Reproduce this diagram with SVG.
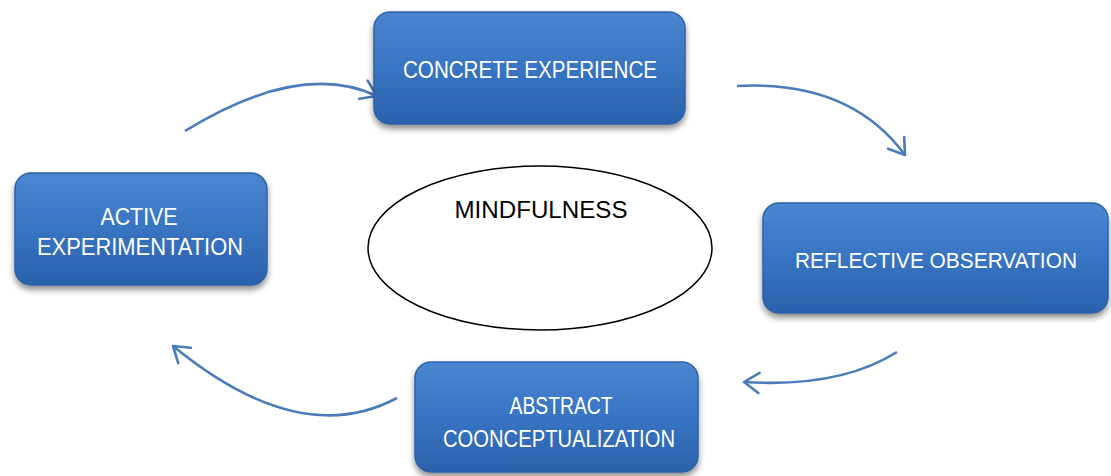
<svg xmlns="http://www.w3.org/2000/svg" width="1111" height="476" viewBox="0 0 1111 476">
<style>
.box{fill:url(#g);stroke:#2d62a8;stroke-width:1.5;filter:url(#sh)}
.lbl{font-family:"Liberation Sans",Arial,sans-serif;font-size:24px;fill:#ffffff;text-anchor:middle}
.conn{fill:none;stroke:#4a7bbb;stroke-width:2.6;marker-end:url(#ah)}
</style>
<defs>
<linearGradient id="g" x1="0" y1="0" x2="0" y2="1">
<stop offset="0" stop-color="#4a86d0"/>
<stop offset="0.5" stop-color="#3874c2"/>
<stop offset="1" stop-color="#2b62ab"/>
</linearGradient>
<filter id="sh" x="-10%" y="-10%" width="120%" height="130%">
<feDropShadow dx="0" dy="4" stdDeviation="3" flood-color="#000" flood-opacity="0.45"/>
</filter>
<marker id="ah" markerUnits="userSpaceOnUse" viewBox="-20 -14 24 28" refX="0" refY="0" markerWidth="24" markerHeight="28" orient="auto">
<path d="M-15,-10 L0,0 L-15,10" fill="none" stroke="#4a7bbb" stroke-width="2.6" stroke-linecap="round" stroke-linejoin="round"/>
</marker>
</defs>
<g id="connectors">
<path class="conn" d="M185,131 Q300,60 377,96"/>
<path class="conn" d="M737,86 Q850,80 905,155"/>
<path class="conn" d="M897,352 Q840,388 744,382"/>
<path class="conn" d="M397,398 Q300,450 173,346"/>
</g>
<g id="concrete">
<rect class="box" x="374" y="12" width="311" height="112" rx="16"/>
<text class="lbl" x="530" y="78" textLength="254" lengthAdjust="spacingAndGlyphs">CONCRETE EXPERIENCE</text>
</g>
<g id="reflective">
<rect class="box" x="763" y="203" width="345" height="110" rx="16"/>
<text class="lbl" x="936" y="268" font-size="22" textLength="282" lengthAdjust="spacingAndGlyphs" style="font-size:22px">REFLECTIVE OBSERVATION</text>
</g>
<g id="abstract">
<rect class="box" x="415" y="362" width="283" height="110" rx="16"/>
<text class="lbl" x="561" y="414" textLength="103" lengthAdjust="spacingAndGlyphs">ABSTRACT</text>
<text class="lbl" x="559" y="447" textLength="232" lengthAdjust="spacingAndGlyphs">COONCEPTUALIZATION</text>
</g>
<g id="active">
<rect class="box" x="15" y="173" width="252" height="112" rx="16"/>
<text class="lbl" x="139" y="225" textLength="77" lengthAdjust="spacingAndGlyphs">ACTIVE</text>
<text class="lbl" x="140" y="255" textLength="206" lengthAdjust="spacingAndGlyphs">EXPERIMENTATION</text>
</g>
<g id="mindfulness">
<ellipse cx="540" cy="248" rx="172" ry="82" fill="#ffffff" stroke="#000000" stroke-width="1.5"/>
<text x="541" y="218" font-family="'Liberation Sans',Arial,sans-serif" font-size="24" fill="#000000" text-anchor="middle" textLength="173" lengthAdjust="spacingAndGlyphs">MINDFULNESS</text>
</g>
</svg>
